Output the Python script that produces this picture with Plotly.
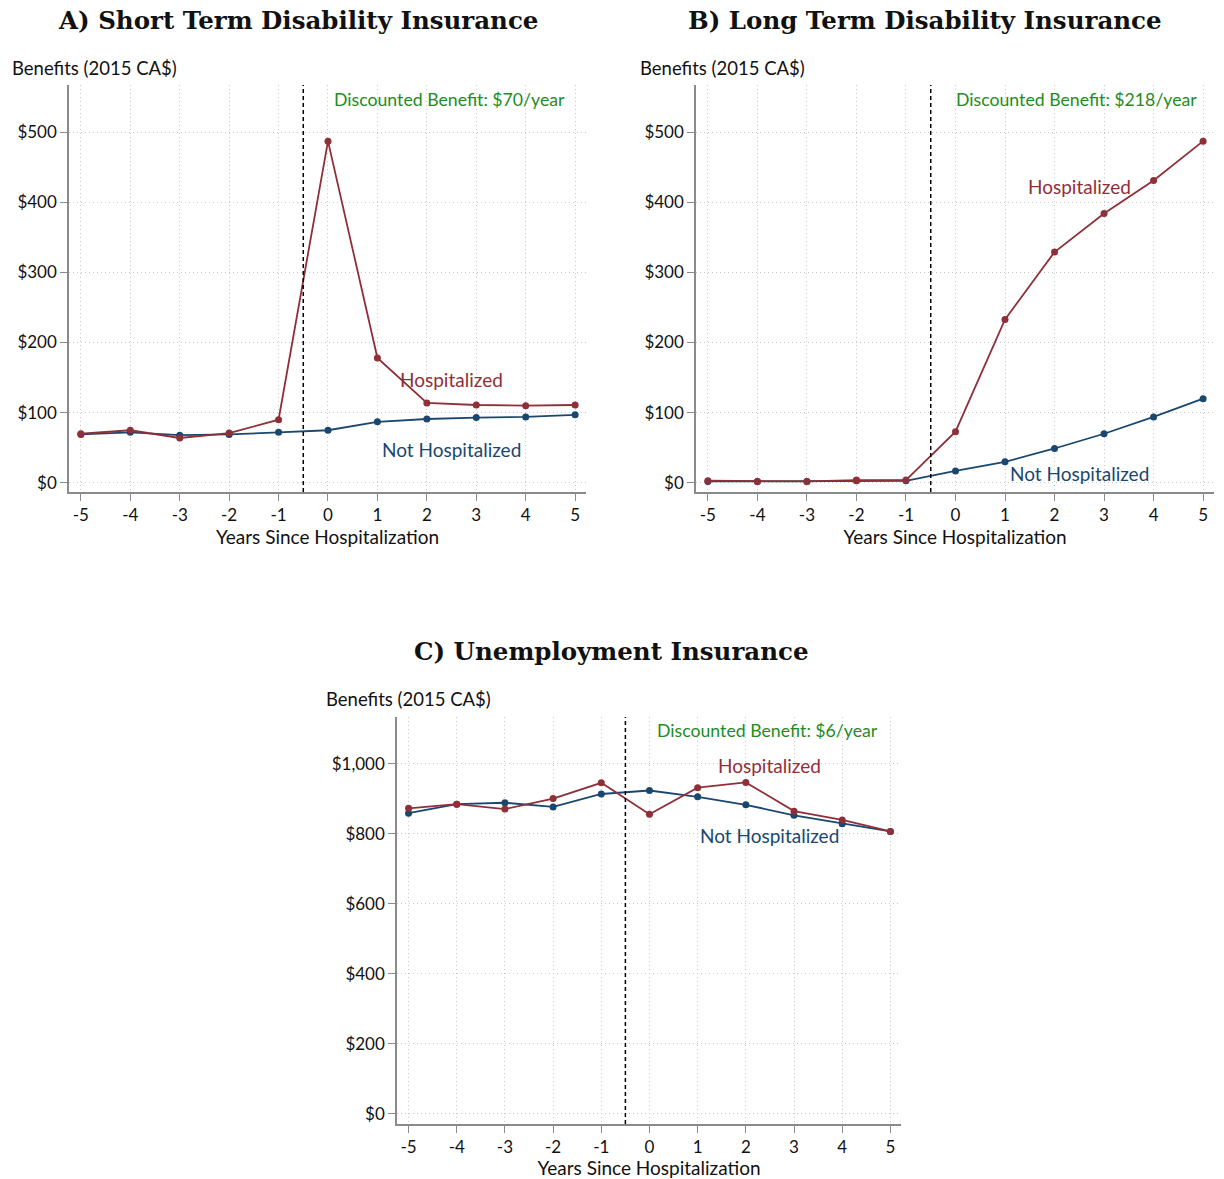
import plotly.graph_objects as go

years = [-5, -4, -3, -2, -1, 0, 1, 2, 3, 4, 5]

std_hosp = [70, 75, 64, 71, 90, 487, 178, 114, 111, 110, 111]
std_not = [69, 72, 68, 69, 72, 75, 87, 91, 93, 94, 97]

ltd_hosp = [3, 2, 2, 4, 4, 73, 233, 329, 384, 431, 487]
ltd_not = [2, 2, 2, 3, 3, 17, 30, 49, 70, 94, 120]

ui_hosp = [873, 885, 871, 901, 946, 856, 932, 947, 865, 840, 807]
ui_not = [859, 885, 889, 877, 914, 924, 906, 883, 853, 829, 807]

titles = ["A) Short Term Disability Insurance", "B) Long Term Disability Insurance", "C) Unemployment Insurance"]
benefit_texts = ["Discounted Benefit: $70/year", "Discounted Benefit: $218/year", "Discounted Benefit: $6/year"]
yticks_std = [0, 100, 200, 300, 400, 500]
yticks_ui = [0, 200, 400, 600, 800, 1000]

RED = "#8f2f38"
NAVY = "#1a476f"
GREEN = "#1e8c1e"
W, H = 1224, 1179

def px(x):
    return x / W

def py(y):
    return 1 - y / H

fig = go.Figure()

panels = [
    dict(hosp=std_hosp, notp=std_not, x=[69, 586], y=[85, 492], yr=[-13, 567], ticks=yticks_std,
         title_xy=(298, 21), ylab_x=10, ylab_y=68, ben_x=567, ben_y=99,
         hl=(2.5, 147), nl=(2.5, 47)),
    dict(hosp=ltd_hosp, notp=ltd_not, x=[696, 1214], y=[85, 492], yr=[-13, 567], ticks=yticks_std,
         title_xy=(925, 21), ylab_x=638, ylab_y=68, ben_x=1199, ben_y=99,
         hl=(2.5, 423), nl=(2.5, 13)),
    dict(hosp=ui_hosp, notp=ui_not, x=[397, 901], y=[717, 1124], yr=[-29, 1134], ticks=yticks_ui,
         title_xy=(611, 652), ylab_x=324, ylab_y=699, ben_x=880, ben_y=730,
         hl=(2.5, 994), nl=(2.5, 794)),
]

tickfont = dict(family="Lato", size=17, color="#111")

for i, p in enumerate(panels):
    n = "" if i == 0 else str(i + 1)
    xa = "x" + n
    ya = "y" + n
    fig.add_trace(go.Scatter(x=years, y=p["notp"], mode="lines+markers", xaxis=xa, yaxis=ya,
                             line=dict(color=NAVY, width=1.8), marker=dict(color=NAVY, size=7),
                             showlegend=False))
    fig.add_trace(go.Scatter(x=years, y=p["hosp"], mode="lines+markers", xaxis=xa, yaxis=ya,
                             line=dict(color=RED, width=1.8), marker=dict(color=RED, size=7),
                             showlegend=False))
    axis_common = dict(showline=True, linecolor="#8a8a8a", linewidth=1.5, ticks="outside",
                       tickcolor="#8a8a8a", ticklen=7, tickwidth=1.2, showgrid=True,
                       gridcolor="#c8c8c8", griddash="1px,3px", gridwidth=1, zeroline=False,
                       tickfont=tickfont, mirror=False)
    fig.layout["xaxis" + n] = dict(
        axis_common, domain=[px(p["x"][0]), px(p["x"][1])], anchor=ya,
        range=[-5.24, 5.22], tickvals=years, ticktext=[str(v) for v in years],
        title=dict(text="Years Since Hospitalization", font=dict(family="Lato", size=19, color="#111"), standoff=1),
    )
    fig.layout["yaxis" + n] = dict(
        axis_common, domain=[py(p["y"][1]), py(p["y"][0])], anchor=xa,
        range=p["yr"], tickvals=p["ticks"], ticktext=["${:,}".format(v) for v in p["ticks"]],
    )
    fig.add_shape(type="line", xref=xa, yref=ya + " domain", x0=-0.5, x1=-0.5, y0=0, y1=1,
                  line=dict(color="black", width=1.5, dash="4px,3px"))
    fig.add_annotation(text="<b>" + titles[i] + "</b>", xref="paper", yref="paper",
                       x=px(p["title_xy"][0]), y=py(p["title_xy"][1]), xanchor="center", yanchor="middle",
                       showarrow=False, font=dict(family="DejaVu Serif", size=24.5, color="#111"))
    fig.add_annotation(text="Benefits (2015 CA$)", xref="paper", yref="paper",
                       x=px(p["ylab_x"]), y=py(p["ylab_y"]), xanchor="left", yanchor="middle",
                       showarrow=False, font=dict(family="Lato", size=18.5, color="#111"))
    fig.add_annotation(text=benefit_texts[i], xref="paper", yref="paper",
                       x=px(p["ben_x"]), y=py(p["ben_y"]), xanchor="right", yanchor="middle",
                       showarrow=False, font=dict(family="Lato", size=17.7, color=GREEN))
    fig.add_annotation(text="Hospitalized", xref=xa, yref=ya, x=p["hl"][0], y=p["hl"][1],
                       xanchor="center", yanchor="middle", showarrow=False,
                       font=dict(family="Lato", size=19, color=RED))
    fig.add_annotation(text="Not Hospitalized", xref=xa, yref=ya, x=p["nl"][0], y=p["nl"][1],
                       xanchor="center", yanchor="middle", showarrow=False,
                       font=dict(family="Lato", size=19, color=NAVY))

fig.update_layout(width=W, height=H, margin=dict(l=0, r=0, t=0, b=0),
                  plot_bgcolor="white", paper_bgcolor="white")

fig.write_html("out.html")
